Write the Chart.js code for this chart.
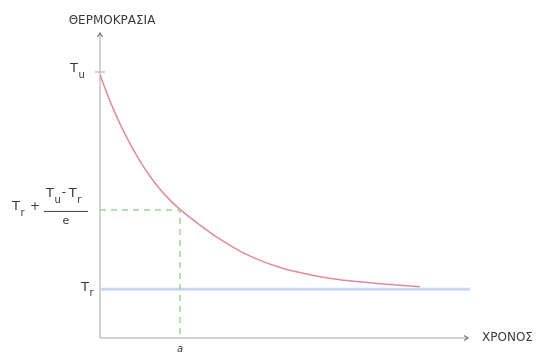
<!DOCTYPE html>
<html>
<head>
<meta charset="utf-8">
<script src="https://cdn.jsdelivr.net/npm/chart.js@4/dist/chart.umd.min.js"></script>
<style>
  body { margin: 0; background: #fff; }
</style>
</head>
<body>
<canvas id="myChart" width="542" height="353"></canvas>
<script>
// time in units of a, temperature in arbitrary units
let times = [0, 0.125, 0.25, 0.375, 0.5, 0.625, 0.75, 0.875, 1,
             1.25, 1.5, 1.75, 2, 2.25, 2.5, 2.75, 3, 3.25, 3.5, 3.75, 4];
let temps = [97, 87.3, 78.9, 71.6, 65.2, 59.6, 54.8, 50.8, 47.4,
             41.6, 36.4, 32.0, 28.6, 26.0, 24.1, 22.6, 21.5, 20.7, 20.0, 19.4, 18.9];
let roomTemp = [18, 18];
let roomTimes = [0, 4.625];
let Tu = 98;
let refTemp = 47.2;
let aTime = 1;
let xEnd = 4.6;
let yEnd = 112.4;

let curve = times.map(function(t, i){ return {x: t, y: temps[i]}; });
let room = roomTimes.map(function(t, i){ return {x: t, y: roomTemp[i]}; });
let dashed = [{x: 0, y: refTemp}, {x: aTime, y: refTemp}, {x: aTime, y: 0}];

let FONT = '"DejaVu Sans", Verdana, sans-serif';

let axisPlugin = {
  id: 'axes',
  beforeDatasetsDraw: function(chart){
    let ctx = chart.ctx;
    let xs = chart.scales.x, ys = chart.scales.y;
    let x0 = xs.getPixelForValue(0), y0 = ys.getPixelForValue(0);
    let x1 = xs.getPixelForValue(xEnd), y1 = ys.getPixelForValue(yEnd);
    ctx.save();
    ctx.strokeStyle = '#c4c4c4';
    ctx.lineWidth = 1.5;
    ctx.beginPath();
    ctx.moveTo(x0, y0); ctx.lineTo(x0, y1);
    ctx.moveTo(x0, y0); ctx.lineTo(x1, y0);
    // tick at Tu
    let yu = ys.getPixelForValue(Tu);
    ctx.moveTo(x0 - 5, yu); ctx.lineTo(x0 + 5, yu);
    ctx.stroke();
    // arrow heads
    ctx.strokeStyle = '#777';
    ctx.lineWidth = 1.2;
    ctx.beginPath();
    ctx.moveTo(x0 - 2.5, y1 + 4); ctx.lineTo(x0, y1); ctx.lineTo(x0 + 2.5, y1 + 4);
    ctx.moveTo(x1 - 4, y0 - 2.5); ctx.lineTo(x1, y0); ctx.lineTo(x1 - 4, y0 + 2.5);
    ctx.stroke();
    ctx.restore();
  },
  afterDraw: function(chart){
    let ctx = chart.ctx;
    let xs = chart.scales.x, ys = chart.scales.y;
    let x0 = xs.getPixelForValue(0), y0 = ys.getPixelForValue(0);
    let x1 = xs.getPixelForValue(xEnd), y1 = ys.getPixelForValue(yEnd);
    ctx.save();
    ctx.fillStyle = '#3a3a3a';
    ctx.textBaseline = 'middle';
    ctx.font = '12px ' + FONT;
    ctx.textAlign = 'center';
    ctx.fillText('ΘΕΡΜΟΚΡΑΣΙΑ', x0 + 12, y1 - 12);
    ctx.textAlign = 'left';
    ctx.fillText('ΧΡΟΝΟΣ', x1 + 14, y0);
    ctx.textAlign = 'center';
    ctx.font = 'italic 10px ' + FONT;
    ctx.fillText('a', xs.getPixelForValue(aTime), y0 + 11);

    function tsub(x, y, sub){
      ctx.textAlign = 'left';
      ctx.font = '13px ' + FONT;
      ctx.fillText('T', x, y);
      let w = ctx.measureText('T').width;
      ctx.font = '10px ' + FONT;
      ctx.fillText(sub, x + w + 0.5, y + 6);
      return x + w + 0.5 + ctx.measureText(sub).width;
    }
    // Tu
    tsub(x0 - 30, ys.getPixelForValue(Tu) - 3, 'u');
    // Tr
    tsub(x0 - 19, ys.getPixelForValue(roomTemp[0]) - 2, 'r');
    // Tr + (Tu - Tr)/e
    let yr = ys.getPixelForValue(refTemp) - 3;
    tsub(12, yr, 'r');
    ctx.font = '12px ' + FONT;
    ctx.textAlign = 'center';
    ctx.fillText('+', 35, yr);
    ctx.strokeStyle = '#3a3a3a';
    ctx.lineWidth = 1;
    ctx.beginPath();
    ctx.moveTo(44, yr + 4.5); ctx.lineTo(88, yr + 4.5);
    ctx.stroke();
    let nx = tsub(46, yr - 13, 'u');
    ctx.font = '12px ' + FONT;
    ctx.textAlign = 'left';
    ctx.fillText('-', nx + 1, yr - 14);
    tsub(nx + 8, yr - 13, 'r');
    ctx.font = '11px ' + FONT;
    ctx.textAlign = 'center';
    ctx.fillText('e', 66, yr + 14);
    ctx.restore();
  }
};

new Chart(document.getElementById("myChart"), {
  type: 'scatter',
  data: {
    datasets: [{
      data: dashed,
      showLine: true,
      borderColor: '#9ad89a',
      borderWidth: 1.5,
      borderDash: [6, 5],
      pointRadius: 0,
      tension: 0
    }, {
      data: room,
      showLine: true,
      borderColor: '#c9d8f9',
      borderWidth: 3,
      pointRadius: 0
    }, {
      data: curve,
      showLine: true,
      borderColor: '#e38a9a',
      borderWidth: 1.5,
      pointRadius: 0,
      cubicInterpolationMode: 'monotone'
    }]
  },
  options: {
    responsive: false,
    animation: false,
    layout: { padding: { left: 100, right: 70, top: 33, bottom: 15 } },
    plugins: { legend: { display: false }, tooltip: { enabled: false } },
    scales: {
      x: { type: 'linear', min: 0, max: 4.65, display: false },
      y: { type: 'linear', min: 0, max: yEnd, display: false }
    }
  },
  plugins: [axisPlugin]
});
</script>
</body>
</html>
